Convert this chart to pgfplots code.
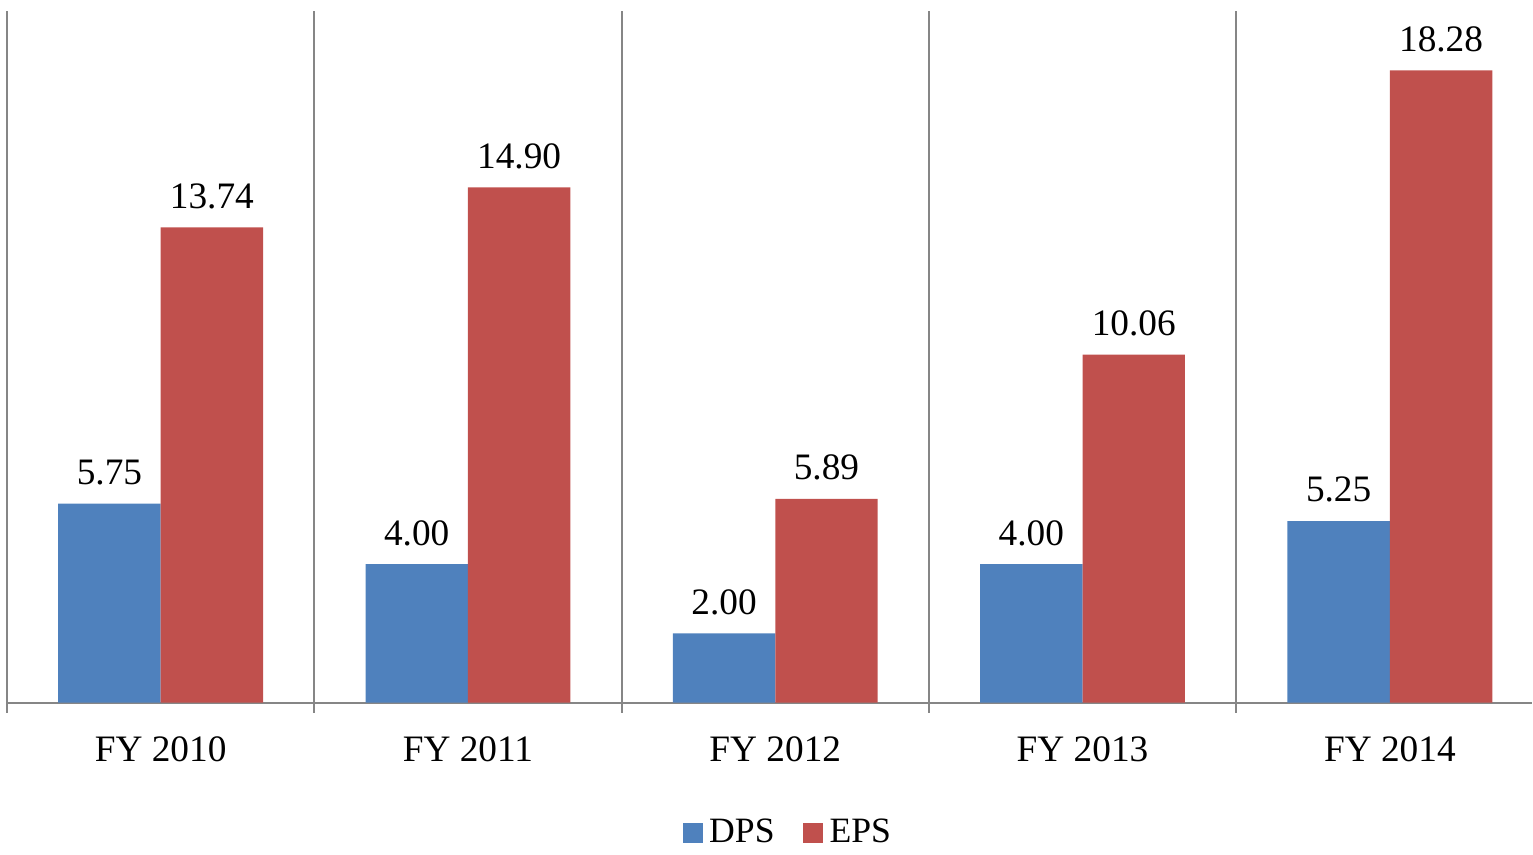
\documentclass[border=0pt]{standalone}
\usepackage{pgfplots}
\pgfplotsset{compat=1.18}
\usepackage{fontspec}
\setmainfont{Liberation Serif}
\definecolor{dpsblue}{HTML}{4F81BD}
\definecolor{epsred}{HTML}{C0504D}
\definecolor{gridgray}{HTML}{868686}

\begin{document}
\begin{tikzpicture}
\begin{axis}[
  scale only axis,
  width=457.8pt, height=207.6pt,
  ybar=0pt, bar width=0.3333,
  xmin=-0.5, xmax=4.4626,
  ymin=0, ymax=20,
  clip=false,
  axis x line*=bottom, axis y line*=left,
  axis line style={gridgray, line width=0.6pt},
  ytick=\empty,
  xtick={-0.5,0.5,1.5,2.5,3.5},
  xticklabels={,,,,},
  xticklabel style={inner sep=0pt},
  xmajorgrids,
  major grid style={gridgray, line width=0.6pt},
  tick align=outside,
  major tick length=3pt,
  tick style={gridgray, line width=0.6pt},
  extra x ticks={0,1,2,3,4},
  extra x tick labels={FY 2010,FY 2011,FY 2012,FY 2013,FY 2014},
  extra x tick style={major tick length=0pt, grid=none,
    tick label style={font=\fontsize{11.2}{13}\selectfont, anchor=base, inner sep=0pt, yshift=-17.7pt}},
  nodes near coords,
  every node near coord/.append style={font=\fontsize{11.2}{13}\selectfont, anchor=south, inner sep=0pt, yshift=5.4pt},
  /pgf/number format/.cd, fixed, fixed zerofill, precision=2, assume math mode=true,
  /pgfplots/.cd,
  legend columns=2,
  legend style={at={(0.5135,-0.1893)}, anchor=center, draw=none, inner sep=0pt,
    font=\fontsize{10.7}{12}\selectfont,
    /tikz/every even column/.append style={column sep=6.5pt}},
  legend image code/.code={\draw[#1, draw=none] (0pt,-3pt) rectangle (6pt,3pt);},
]
\addplot[fill=dpsblue, draw=none] coordinates {(0,5.75) (1,4.00) (2,2.00) (3,4.00) (4,5.25)};
\addplot[fill=epsred, draw=none] coordinates {(0,13.74) (1,14.90) (2,5.89) (3,10.06) (4,18.28)};
\legend{DPS,EPS}
\end{axis}
\path ([xshift=-2.1pt,yshift=-42.9pt]current axis.south west) rectangle ([yshift=3.3pt]current axis.north east);
\end{tikzpicture}
\end{document}
